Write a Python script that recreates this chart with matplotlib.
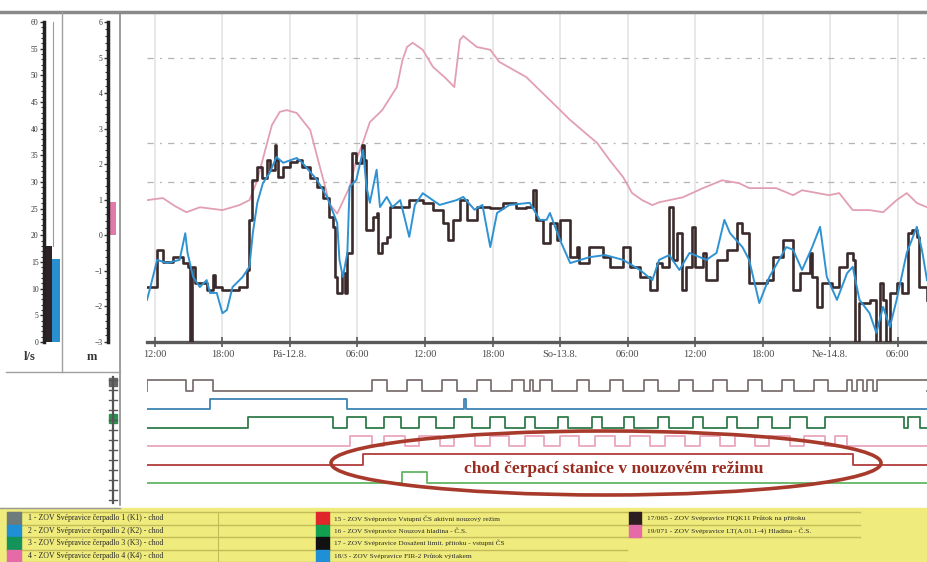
import matplotlib
matplotlib.use("Agg")
import matplotlib.pyplot as plt
from matplotlib.patches import Rectangle, Ellipse
from matplotlib.ticker import MultipleLocator

plt.rcParams['font.family'] = ['Liberation Serif', 'DejaVu Serif']

# ---------------------------------------------------------------- data
# time axis: hours counted from Thursday 11.8. 00:00
tick_hours = [12, 18, 24, 30, 36, 42, 48, 54, 60, 66, 72, 78]
tick_labels = ["12:00", "18:00", "Pá-12.8.", "06:00", "12:00", "18:00",
               "So-13.8.", "06:00", "12:00", "18:00", "Ne-14.8.", "06:00"]

# level in the pumping station [m]
level_t = [11.3, 12.7, 13.8, 14.8, 16.0, 18.0, 19.5, 20.4, 21.1, 21.8, 22.4, 23.1,
           23.7, 24.6, 25.1, 25.8, 26.5, 27.1, 27.5, 28.2, 29.3, 29.9, 30.5, 31.1,
           32.2, 33.5, 34.0, 34.4, 34.9, 35.8, 36.7, 37.8, 38.6, 39.1, 39.4, 40.6,
           41.8, 42.6, 45.0, 47.1, 48.9, 51.3, 52.4, 53.6, 54.4, 55.3, 56.2, 56.8,
           58.9, 60.7, 62.4, 63.9, 64.8, 67.2, 68.7, 69.5, 71.9, 72.8, 74.0, 75.5,
           76.7, 77.9, 78.8, 79.7, 80.6]
level_m = [1.00, 1.06, 0.83, 0.66, 0.80, 0.72, 0.86, 1.00, 1.56, 2.41, 3.12, 3.49,
           3.54, 3.46, 3.26, 2.98, 2.13, 1.42, 0.90, 0.62, 1.37, 2.13, 2.64, 3.20,
           3.54, 4.19, 4.95, 5.32, 5.44, 5.24, 4.76, 4.45, 4.19, 5.52, 5.63, 5.32,
           5.24, 4.90, 4.47, 3.82, 3.26, 2.61, 2.13, 1.65, 1.20, 1.00, 0.86, 0.94,
           1.08, 1.34, 1.56, 1.48, 1.34, 1.34, 1.14, 1.28, 1.14, 1.20, 0.72, 0.72,
           0.66, 1.00, 1.20, 0.92, 0.80]

# inflow FIQK11 [l/s]
inflow_t = [11.3, 12.2, 12.7, 13.6, 14.5, 14.9, 15.1, 15.3, 15.6, 16.6, 17.2, 17.3,
            18.0, 19.5, 20.2, 20.4, 20.6, 21.1, 21.5, 22.0, 22.2, 22.7, 22.8, 22.9,
            23.4, 24.0, 24.6, 25.1, 25.8, 26.4, 26.9, 27.5, 27.8, 28.0, 28.2, 28.6,
            28.9, 29.1, 29.5, 29.9, 30.4, 30.6, 30.8, 31.3, 31.4, 31.7, 31.8, 32.2,
            32.6, 32.9, 34.6, 35.8, 36.7, 37.6, 38.0, 38.5, 39.1, 39.7, 40.6, 41.8,
            42.9, 44.1, 45.0, 45.6, 45.9, 46.5, 47.1, 47.7, 48.0, 48.9, 49.5, 49.7,
            50.6, 51.8, 52.4, 53.6, 54.2, 55.1, 56.0, 56.6, 57.1, 57.7, 58.0, 58.4,
            58.8, 59.2, 59.7, 60.0, 60.7, 61.0, 61.9, 62.8, 63.7, 64.2, 64.8, 66.4,
            66.9, 67.8, 68.4, 68.7, 69.3, 70.2, 70.4, 70.8, 71.3, 72.2, 72.8, 73.5,
            74.0, 74.2, 74.6, 74.9, 75.5, 76.1, 76.4, 76.7, 77.0, 77.3, 77.9, 78.4,
            78.9, 79.3, 79.7, 79.9, 80.6]
inflow_q = [10.3, 17.3, 15.0, 15.9, 14.8, 14.1, 0.0, 14.1, 11.1, 9.8, 12.6, 10.3,
            9.8, 10.3, 13.5, 22.9, 30.4, 32.8, 30.8, 34.1, 32.3, 36.9, 34.1, 30.9,
            32.8, 33.8, 34.1, 32.8, 30.8, 29.1, 27.0, 23.4, 21.6, 12.2, 9.2, 12.9,
            9.2, 16.7, 35.4, 33.6, 36.9, 34.1, 21.0, 21.0, 23.4, 24.2, 16.7, 18.6,
            19.7, 25.3, 26.6, 26.1, 24.8, 22.3, 19.1, 22.9, 26.6, 22.9, 25.3, 25.1,
            26.1, 25.1, 25.3, 28.5, 22.9, 18.6, 22.3, 19.1, 22.9, 15.9, 17.8, 14.8,
            17.8, 15.9, 14.1, 17.8, 14.1, 12.2, 9.8, 14.8, 14.1, 25.3, 15.4, 20.4,
            9.8, 14.1, 21.6, 14.1, 16.7, 11.6, 15.4, 17.3, 22.3, 20.4, 11.1, 11.6,
            15.9, 19.1, 19.1, 9.8, 12.9, 16.7, 12.2, 6.6, 11.1, 10.3, 14.1, 16.7,
            15.4, 0.0, 7.3, 7.3, 7.9, 0.0, 11.1, 7.9, 0.0, 9.2, 11.1, 9.2,
            20.4, 21.0, 19.7, 10.3, 7.9]

# discharge flow [l/s]
outflow_t = [11.3, 11.6, 12.2, 13.1, 14.2, 14.7, 14.9, 15.4, 16.0, 16.6, 16.9, 17.5,
             18.0, 18.4, 18.9, 19.8, 20.4, 20.7, 21.1, 21.6, 22.2, 22.8, 23.4, 24.6,
             25.1, 26.4, 27.3, 28.2, 28.4, 28.7, 29.1, 29.3, 29.9, 30.5, 30.8, 31.1,
             31.7, 32.0, 32.6, 33.1, 33.8, 34.6, 35.1, 35.8, 37.3, 38.8, 39.4, 40.4,
             41.1, 41.8, 42.4, 43.5, 45.3, 46.2, 46.8, 47.1, 48.0, 48.9, 50.6, 52.0,
             53.6, 55.1, 56.2, 56.8, 57.7, 58.6, 59.5, 61.0, 61.9, 62.6, 63.1, 64.2,
             64.8, 65.7, 66.6, 68.1, 68.7, 69.5, 70.4, 71.1, 71.7, 72.6, 73.5, 74.0,
             74.6, 75.5, 76.1, 76.7, 77.3, 77.9, 78.8, 79.7, 80.2, 80.6]
outflow_q = [7.9, 10.3, 15.4, 14.8, 15.4, 20.4, 16.7, 12.2, 10.3, 11.6, 9.2, 9.2,
             5.4, 6.0, 10.3, 12.2, 14.1, 20.4, 26.1, 29.8, 31.7, 34.7, 33.6, 34.5,
             33.6, 30.4, 27.2, 22.3, 15.4, 12.2, 16.7, 29.1, 30.4, 36.0, 29.1, 26.1,
             32.3, 25.3, 27.2, 25.3, 26.6, 19.7, 25.7, 27.9, 25.7, 26.6, 27.2, 24.8,
             25.7, 17.8, 24.2, 25.7, 26.1, 22.9, 22.9, 24.2, 19.1, 14.8, 15.9, 16.3,
             15.4, 13.5, 11.6, 15.4, 16.3, 13.5, 16.7, 15.4, 16.7, 22.9, 20.4, 17.8,
             15.4, 7.3, 12.2, 17.8, 17.3, 13.5, 17.8, 21.6, 12.2, 7.9, 12.9, 14.1,
             7.9, 5.4, 1.7, 6.6, 2.8, 7.9, 16.7, 21.6, 16.7, 11.6]

# threshold levels [m]
limit_levels = [5.0, 2.6, 1.5]

# current values shown in the bar gauges
gauge_flows = [18.0, 15.5]
gauge_level = 0.95

# binary signals: (on, off) intervals in hours
pump1_on = [(11.3, 14.8), (15.4, 17.2), (31.3, 32.6), (34.4, 35.7), (37.5, 38.8),
            (40.6, 41.9), (43.7, 44.8), (45.3, 45.6), (46.2, 47.3), (49.5, 50.6),
            (52.4, 53.6), (55.5, 56.7), (58.6, 59.8), (61.6, 62.8), (64.7, 65.9),
            (67.7, 68.8), (70.6, 71.8), (73.5, 73.9), (74.4, 74.9), (75.3, 75.8),
            (76.2, 81.0)]
pump2_on = [(16.9, 29.1), (39.45, 39.6)]
pump3_on = [(20.3, 27.8), (29.1, 30.8), (32.4, 33.9), (35.5, 37.0), (38.6, 40.2),
            (41.8, 43.1), (44.9, 45.8), (47.8, 48.7), (50.8, 51.7), (53.7, 54.6),
            (56.7, 57.7), (59.8, 60.7), (62.8, 63.7), (65.6, 66.8), (68.4, 69.9),
            (71.5, 78.6), (78.9, 80.0)]
pump4_on = [(29.3, 31.3), (32.4, 34.2), (35.5, 37.3), (38.6, 40.4), (41.8, 43.5),
            (44.9, 46.6), (48.0, 49.7), (51.1, 52.9), (54.2, 56.0), (57.3, 59.1),
            (60.4, 62.2), (63.5, 65.3), (66.6, 68.4), (69.7, 71.5), (72.4, 73.5)]
emergency_on = [(30.5, 74.0)]
emergency_level_on = [(34.0, 36.2)]

signals = [pump1_on, pump2_on, pump3_on, pump4_on, emergency_on, emergency_level_on]
signal_colors = ['#7d7272', '#3f83b4', '#2f7c4c', '#e9a6bd', '#b23c3c', '#63b463']

legend_col1 = ["1 - ZOV Svépravice čerpadlo 1 (K1) - chod",
               "2 - ZOV Svépravice čerpadlo 2 (K2) - chod",
               "3 - ZOV Svépravice čerpadlo 3 (K3) - chod",
               "4 - ZOV Svépravice čerpadlo 4 (K4) - chod"]
legend_col2 = ["15 - ZOV Svépravice Vstupní ČS aktivní nouzový režim",
               "16 - ZOV Svépravice Nouzová hladina - Č.S.",
               "17 - ZOV Svépravice Dosažení limit. přítoku - vstupní ČS",
               "18/3 - ZOV Svépravice FIR-2 Průtok výtlakem"]
legend_col3 = ["17/065 - ZOV Svépravice FIQK11 Průtok na přítoku",
               "19/071 - ZOV Svépravice LT(A.01.1-4) Hladina - Č.S."]
legend_colors1 = ['#6e7b7b', '#1f8fd6', '#13925a', '#e46aa8']
legend_colors2 = ['#e0262a', '#12a050', '#111111', '#1f8fd6']
legend_colors3 = ['#2d1e22', '#e46aa8']

annotation = "chod čerpací stanice v nouzovém režimu"

# ---------------------------------------------------------------- figure
W, H = 927, 562
fig = plt.figure(figsize=(W / 100, H / 100), dpi=100)
fig.patch.set_facecolor('white')


def px_axes(x0, y0, x1, y1, **kw):
    return fig.add_axes([x0 / W, 1 - y1 / H, (x1 - x0) / W, (y1 - y0) / H], **kw)


T0, T1 = 11.3, 80.6

# ---- main trend chart
ax = px_axes(147, 14, 927, 342)
ax.set_xlim(T0, T1)
ax.set_ylim(-3, 6.25)
for s in ['top', 'right', 'left']:
    ax.spines[s].set_visible(False)
ax.spines['bottom'].set_color('#5a5a5a')
ax.spines['bottom'].set_linewidth(2.4)
ax.set_yticks([])
ax.set_xticks(tick_hours)
ax.set_xticklabels(tick_labels, fontsize=7.5, color='#4a4a4a')
ax.tick_params(axis='x', direction='inout', length=7, width=1.2, color='#5a5a5a', pad=2)
for h in tick_hours:
    ax.axvline(h, color='#e6e6e6', lw=1.3, zorder=0)
for lv in limit_levels:
    ax.axhline(lv, color='#b4b4b4', lw=0.9, ls=(0, (5, 5, 1.5, 5)), zorder=1)
ax.plot(level_t, level_m, color='#e29fb2', lw=1.3, zorder=3)

ax2 = ax.twinx()
ax2.set_ylim(0, 61.5)
ax2.set_xlim(T0, T1)
for s in ax2.spines.values():
    s.set_visible(False)
ax2.set_yticks([])
ax2.plot(inflow_t, inflow_q, color='#3a2a2c', lw=1.9, drawstyle='steps-post', zorder=3)
ax2.plot(outflow_t, outflow_q, color='#2f93d3', lw=1.4, zorder=4)

# ---- binary signal strip
dax = px_axes(147, 372, 927, 505)
dax.set_xlim(T0, T1)
dax.set_ylim(6.2, -1.03)
dax.axis('off')
for i, (ivals, col) in enumerate(zip(signals, signal_colors)):
    ts, ys = [T0], [i]
    for on, off in ivals:
        ts += [on, off]
        ys += [i - 0.57, i]
    ts.append(T1)
    ys.append(ys[-1])
    dax.plot(ts, ys, color=col, lw=1.3, drawstyle='steps-post')

# ---- bar gauges
g1 = px_axes(44, 22, 62, 342)
g1.set_ylim(0, 60)
g1.set_xlim(0, 2.25)
g1.bar([0, 1], gauge_flows, width=1, align='edge', color=['#2e2426', '#2a8fcf'])
for s in ['top', 'right', 'bottom']:
    g1.spines[s].set_visible(False)
g1.spines['left'].set_linewidth(2.5)
g1.spines['left'].set_color('#222222')
g1.set_xticks([])
g1.yaxis.set_major_locator(MultipleLocator(5))
g1.yaxis.set_minor_locator(MultipleLocator(1))
g1.tick_params(axis='y', which='major', labelsize=5.5, length=3, width=1, pad=1, colors='#333333')
g1.tick_params(axis='y', which='minor', length=2, width=0.8, colors='#333333')
g1.patch.set_alpha(0)

g2 = px_axes(108, 22, 120, 342)
g2.set_ylim(-3, 6)
g2.set_xlim(0, 1.2)
g2.bar([0.2], [gauge_level], width=0.6, align='edge', color='#e07aa8')
for s in ['top', 'right', 'bottom']:
    g2.spines[s].set_visible(False)
g2.spines['left'].set_linewidth(2.5)
g2.spines['left'].set_color('#222222')
g2.set_xticks([])
g2.yaxis.set_major_locator(MultipleLocator(1))
g2.yaxis.set_minor_locator(MultipleLocator(0.2))
g2.tick_params(axis='y', which='major', labelsize=5.5, length=3, width=1, pad=1, colors='#333333')
g2.tick_params(axis='y', which='minor', length=2, width=0.8, colors='#333333')
g2.patch.set_alpha(0)

# ---- frame, labels, legend and annotation drawn in pixel space
cv = fig.add_axes([0, 0, 1, 1], zorder=10)
cv.set_xlim(0, W)
cv.set_ylim(H, 0)
cv.axis('off')
cv.patch.set_alpha(0)

cv.plot([0, W], [12, 12], color='#8a8a8a', lw=2.5)
cv.plot([62, 62], [12, 372], color='#a0a0a0', lw=1)
cv.plot([120, 120], [12, 505], color='#8c8c8c', lw=1.2)
cv.plot([6, 120], [372, 372], color='#a0a0a0', lw=1)
cv.plot([53, 53], [22, 246], color='#9a9a9a', lw=0.8)
cv.text(30, 357, "l/s", fontsize=9, fontweight='bold', color='#333333', ha='center', va='center')
cv.text(92, 357, "m", fontsize=9, fontweight='bold', color='#333333', ha='center', va='center')

# channel ladder next to the signal strip
cv.plot([113, 113], [377, 503], color='#555555', lw=1.6)
for k in range(13):
    yy = 380 + k * 10
    cv.plot([109, 117], [yy, yy], color='#555555', lw=1)
cv.add_patch(Rectangle((109, 378), 8, 8, color='#666666'))
cv.add_patch(Rectangle((109, 414), 8, 9, color='#2a9050'))

# legend panel
cv.add_patch(Rectangle((0, 508), W, H - 508, color='#efeb7c', zorder=1))
cv.plot([0, 120], [508, 508], color='#999999', lw=1, zorder=2)
row_y = [512, 524.5, 537, 549.5, 562]
for yy in row_y:
    cv.plot([7, 627], [yy, yy], color='#c4bc58', lw=1, zorder=2)
for yy in row_y[:3]:
    cv.plot([627, 860], [yy, yy], color='#c4bc58', lw=1, zorder=2)
for r in range(4):
    y0, y1 = row_y[r], row_y[r + 1]
    yc = (y0 + y1) / 2
    cv.add_patch(Rectangle((7, y0), 14, y1 - y0, color=legend_colors1[r], zorder=3))
    cv.text(28, yc, legend_col1[r], fontsize=5.6, color='#2a2a2a', va='center', zorder=4)
    cv.plot([218, 218], [y0, y1], color='#c4bc58', lw=0.8, zorder=2)
    cv.add_patch(Rectangle((316, y0), 13, y1 - y0, color=legend_colors2[r], zorder=3))
    cv.text(334, yc, legend_col2[r], fontsize=5.2, color='#2a2a2a', va='center', zorder=4)
for r in range(2):
    y0, y1 = row_y[r], row_y[r + 1]
    yc = (y0 + y1) / 2
    cv.add_patch(Rectangle((629, y0), 12, y1 - y0, color=legend_colors3[r], zorder=3))
    cv.text(647, yc, legend_col3[r], fontsize=5.4, color='#2a2a2a', va='center', zorder=4)

# annotation of the emergency run
cv.add_patch(Ellipse((606, 463), 550, 64, fill=False, edgecolor='#a83a2c', lw=2.6, zorder=5))
cv.text(614, 469, annotation, fontsize=12.5, fontweight='bold', color='#9a2c20',
        ha='center', va='center', zorder=6)

fig.savefig("out.png", dpi=100)
